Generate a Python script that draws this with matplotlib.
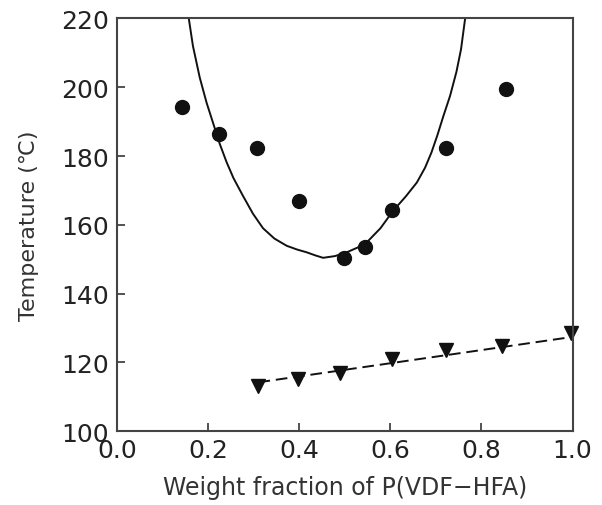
import numpy as np
import matplotlib
matplotlib.use("Agg")
import matplotlib.pyplot as plt

plt.rcParams['font.family'] = ['DejaVu Sans']

# measured cloud points (circles)
cloud_x = [0.143, 0.223, 0.306, 0.398, 0.498, 0.544, 0.604, 0.723, 0.853]
cloud_y = [194.3, 186.5, 182.4, 166.9, 150.4, 153.5, 164.2, 182.4, 199.4]

# melting points (down triangles)
melt_x = [0.309, 0.397, 0.490, 0.603, 0.721, 0.844, 0.997]
melt_y = [113.2, 115.1, 116.9, 121.1, 123.7, 124.8, 128.5]

# dashed fit through the melting points
fit_x = [0.31, 1.0]
fit_y = [114.2, 127.4]

# calculated binodal curve (solid)
curve_x = [0.157, 0.166, 0.181, 0.196, 0.211, 0.225, 0.240, 0.255, 0.276, 0.298,
           0.320, 0.345, 0.372, 0.395, 0.416, 0.435, 0.452, 0.478, 0.504, 0.528,
           0.548, 0.578, 0.606, 0.634, 0.658, 0.676, 0.690, 0.703, 0.716, 0.731,
           0.745, 0.755, 0.764]
curve_y = [219.9, 212.0, 202.8, 195.5, 189.3, 183.5, 178.2, 173.6, 168.4, 163.2,
           159.0, 156.0, 153.9, 152.8, 152.0, 151.1, 150.4, 150.9, 152.0, 153.4,
           154.9, 159.0, 164.1, 168.3, 172.3, 176.6, 181.0, 186.0, 191.5, 197.5,
           204.5, 211.0, 219.9]

fig = plt.figure(figsize=(6.02, 5.06), dpi=100)
ax = fig.add_axes([0.195, 0.146, 0.756, 0.8155])

txt = '#222222'
ax.plot(curve_x, curve_y, color='#111111', lw=1.4)
ax.plot(fit_x, fit_y, color='#111111', lw=1.4, ls=(0, (6, 3)))
ax.plot(cloud_x, cloud_y, 'o', color='#111111', ms=10, clip_on=False)
ax.plot(melt_x, melt_y, 'v', color='#111111', ms=10, clip_on=False)

ax.set_xlim(0, 1.0)
ax.set_ylim(100, 220)
ax.set_xticks(np.arange(0, 1.01, 0.2))
ax.set_yticks(np.arange(100, 221, 20))
ax.set_xticklabels(['0.0', '0.2', '0.4', '0.6', '0.8', '1.0'])

for s in ax.spines.values():
    s.set_color('#444444')
    s.set_linewidth(1.5)

ax.tick_params(direction='in', length=6, width=1.3, color='#444444',
               labelsize=18, labelcolor=txt, top=False, right=False)
ax.tick_params(axis='x', pad=5)
ax.tick_params(axis='y', pad=6)

ax.set_xlabel('Weight fraction of P(VDF\u2212HFA)', fontsize=17, color='#333333', labelpad=9)
ax.set_ylabel('Temperature (\u2103)', fontsize=16, color='#333333', labelpad=16)

fig.savefig('out.png', dpi=100)
